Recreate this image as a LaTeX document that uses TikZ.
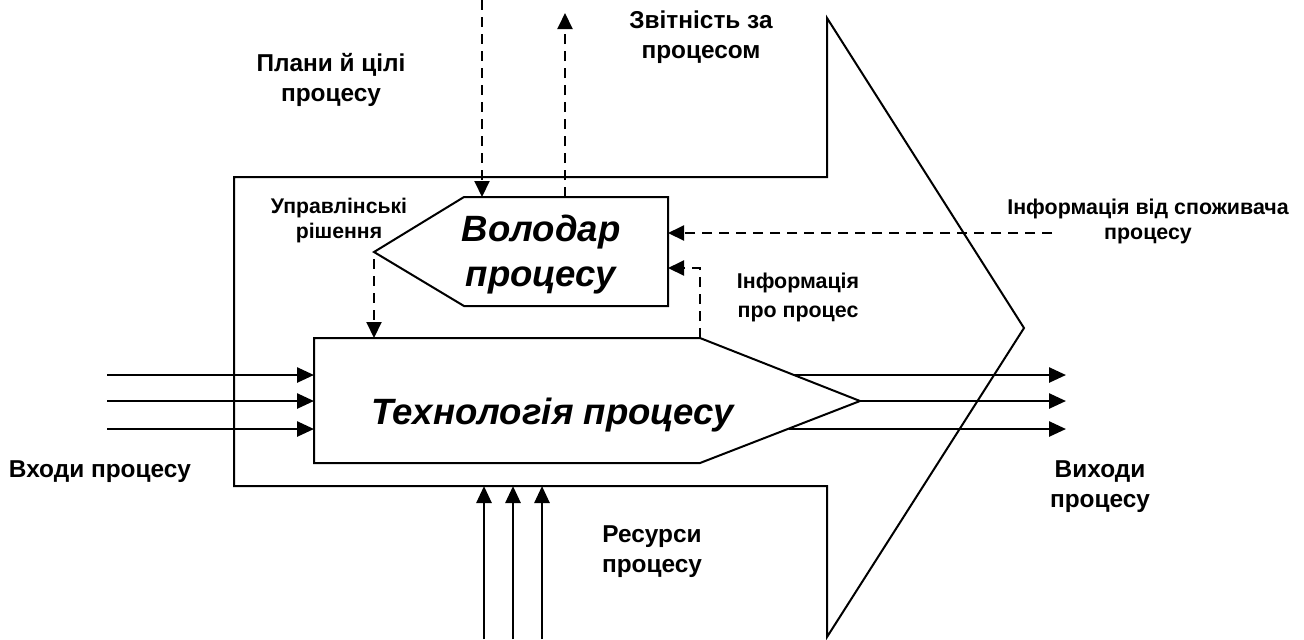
\documentclass[tikz,border=0pt]{standalone}
\usepackage{fontspec}
\setmainfont{Liberation Sans}
\usetikzlibrary{arrows.meta}
\begin{document}
\begin{tikzpicture}[x=0.5pt,y=-0.5pt, line join=miter,
  outline/.style={draw, line width=1pt},
  flow/.style={draw, line width=1.3pt, -{Triangle[length=8.5pt,width=7.5pt]}},
  dflow/.style={draw, line width=1pt, dash pattern=on 5pt off 3.5pt, -{Triangle[length=8pt,width=7.5pt]}},
  lbl/.style={font=\bfseries\fontsize{12.2}{15}\selectfont, align=center, inner sep=0pt},
  slbl/.style={font=\bfseries\fontsize{10.6}{12.5}\selectfont, align=center, inner sep=0pt},
  ilbl/.style={font=\bfseries\fontsize{10.7}{12.5}\selectfont, align=center, inner sep=0pt},
  i2lbl/.style={font=\bfseries\fontsize{10.7}{14.5}\selectfont, align=center, inner sep=0pt},
  big/.style={font=\bfseries\itshape\fontsize{18.3}{22.5}\selectfont, align=center, inner sep=0pt}]
\useasboundingbox (0,0) rectangle (1304,639);

% big process arrow
\draw[outline] (234,177) -- (827,177) -- (827,18) -- (1024,328) -- (827,637) -- (827,486) -- (234,486) -- cycle;

% owner box
\draw[outline] (464,197) -- (668,197) -- (668,306) -- (464,306) -- (374,252) -- cycle;
\node[big] (owner) at (541,255) {Володар\\процесу};

% technology box
\draw[outline] (314,338) -- (700,338) -- (860,401) -- (700,463) -- (314,463) -- cycle;
\node[big] (tech) at (553,415) {Технологія процесу};

% coordinates
\coordinate (in1) at (107,375); \coordinate (t1) at (314,375);
\coordinate (in2) at (107,401); \coordinate (t2) at (314,401);
\coordinate (in3) at (107,429); \coordinate (t3) at (314,429);
\coordinate (o1s) at (794,375); \coordinate (o1) at (1066,375);
\coordinate (o2s) at (860,401); \coordinate (o2) at (1066,401);
\coordinate (o3s) at (789,429); \coordinate (o3) at (1066,429);
\coordinate (r1s) at (484,639); \coordinate (r1) at (484,486);
\coordinate (r2s) at (513,639); \coordinate (r2) at (513,486);
\coordinate (r3s) at (542,639); \coordinate (r3) at (542,486);
\coordinate (plan) at (482,0); \coordinate (ownertop1) at (482,197);
\coordinate (ownertop2) at (565,197); \coordinate (rep) at (565,13);
\coordinate (tipd) at (374,259); \coordinate (techtop) at (374,338);
\coordinate (cons) at (1052,233); \coordinate (ownerr1) at (668,233);
\coordinate (techcorner) at (700,338); \coordinate (bend) at (700,268); \coordinate (ownerr2) at (668,268);

% inputs / outputs / resources
\draw[flow] (in1) -- (t1);
\draw[flow] (in2) -- (t2);
\draw[flow] (in3) -- (t3);
\draw[flow] (o1s) -- (o1);
\draw[flow] (o2s) -- (o2);
\draw[flow] (o3s) -- (o3);
\draw[flow] (r1s) -- (r1);
\draw[flow] (r2s) -- (r2);
\draw[flow] (r3s) -- (r3);

% dashed information flows
\draw[dflow] (plan) -- (ownertop1);
\draw[dflow] (ownertop2) -- (rep);
\draw[dflow] (tipd) -- (techtop);
\draw[dflow] (cons) -- (ownerr1);
\draw[dflow] (techcorner) -- (bend) -- (ownerr2);

% labels
\node[lbl] (lplan) at (331,80) {Плани й цілі\\процесу};
\node[lbl] (lrep) at (701,37) {Звітність за\\процесом};
\node[slbl] (ldec) at (339,221) {Управлінські\\рішення};
\node[ilbl] (lcons) at (1148,221) {Інформація від споживача\\процесу};
\node[i2lbl] (linfo) at (798,297) {Інформація\\про процес};
\node[lbl] (lin) at (100,472) {Входи процесу};
\node[lbl] (lout) at (1100,487) {Виходи\\процесу};
\node[lbl] (lres) at (652,552) {Ресурси\\процесу};
\end{tikzpicture}
\end{document}
